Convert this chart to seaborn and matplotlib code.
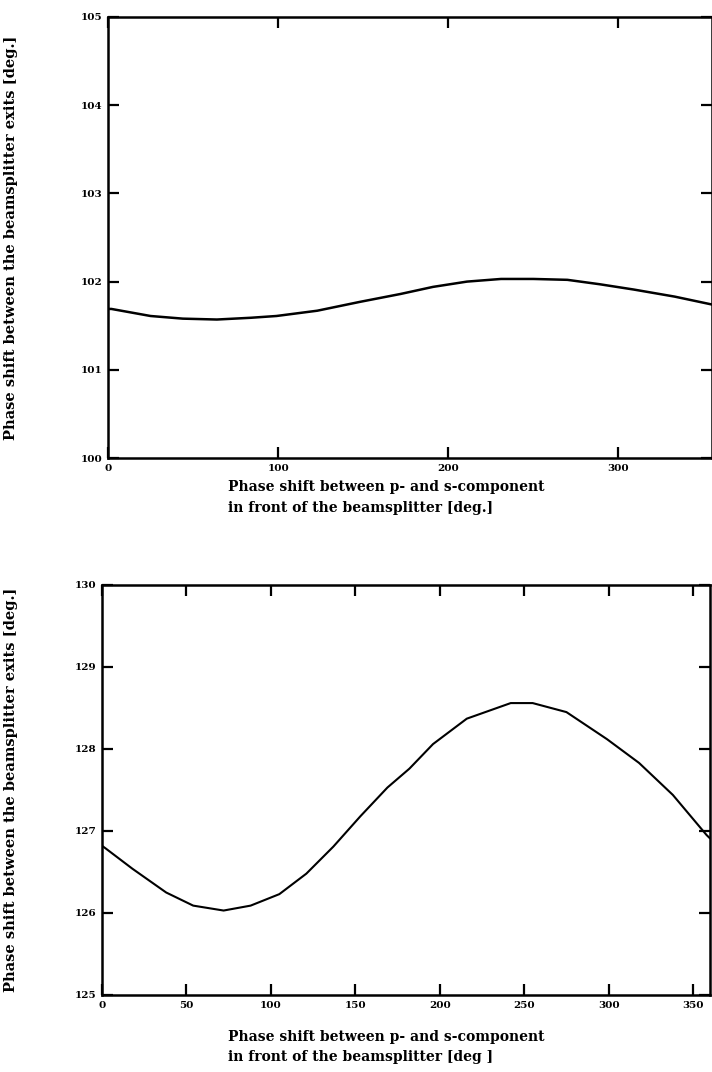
import matplotlib
matplotlib.use("Agg")
import matplotlib.pyplot as plt
import seaborn as sns
import pandas as pd

# Top panel data
top_x = [0, 2, 25, 44, 64, 84, 99, 123, 148, 172, 191, 211, 231, 250, 270, 289, 309, 333, 355]
top_y = [101.69, 101.69, 101.61, 101.58, 101.57, 101.59, 101.61, 101.67, 101.77, 101.86,
         101.94, 102.0, 102.03, 102.03, 102.02, 101.97, 101.91, 101.83, 101.74]
top_xticks = [0, 100, 200, 300]
top_yticks = [100, 101, 102, 103, 104, 105]

# Bottom panel data
bot_x = [0, 2, 18, 38, 54, 72, 88, 105, 121, 137, 153, 169, 182, 196, 216, 242, 255,
         275, 299, 318, 338, 358, 360]
bot_y = [126.82, 126.79, 126.54, 126.25, 126.09, 126.03, 126.09, 126.23, 126.48, 126.81,
         127.18, 127.53, 127.76, 128.06, 128.37, 128.56, 128.56, 128.45, 128.12, 127.83,
         127.44, 126.95, 126.91]
bot_xticks = [0, 50, 100, 150, 200, 250, 300, 350]
bot_yticks = [125, 126, 127, 128, 129, 130]

xlabel_top = "Phase shift between p- and s-component\nin front of the beamsplitter [deg.]"
xlabel_bot = "Phase shift between p- and s-component\nin front of the beamsplitter [deg ]"
ylabel = "Phase shift between the beamsplitter exits [deg.]"

sns.set_style("ticks")
plt.rcParams['font.family'] = ['DejaVu Serif', 'DejaVu Sans']
plt.rcParams['font.weight'] = 'bold'
plt.rcParams['text.color'] = 'black'
plt.rcParams['axes.labelcolor'] = 'black'
plt.rcParams['xtick.color'] = 'black'
plt.rcParams['ytick.color'] = 'black'

W, H = 712, 1072
fig = plt.figure(figsize=(W / 100, H / 100), dpi=100)


def add_axes(l, r, t, b):
    return fig.add_axes([l / W, 1 - b / H, (r - l) / W, (b - t) / H])


ax1 = add_axes(108, 712, 17, 458)
ax2 = add_axes(102, 710, 585, 995)

df1 = pd.DataFrame({"x": top_x, "y": top_y})
df2 = pd.DataFrame({"x": bot_x, "y": bot_y})

sns.lineplot(data=df1, x="x", y="y", ax=ax1, color="black", linewidth=1.8)
sns.lineplot(data=df2, x="x", y="y", ax=ax2, color="black", linewidth=1.5)

ax1.set_xlim(0, 355)
ax1.set_ylim(100, 105)
ax1.set_xticks(top_xticks)
ax1.set_yticks(top_yticks)
ax2.set_xlim(0, 360)
ax2.set_ylim(125, 130)
ax2.set_xticks(bot_xticks)
ax2.set_yticks(bot_yticks)

for ax, xl in [(ax1, xlabel_top), (ax2, xlabel_bot)]:
    for s in ax.spines.values():
        s.set_linewidth(1.8)
        s.set_color("black")
    ax.tick_params(direction="in", top=True, right=True, length=8, width=1.6,
                   labelsize=7.5, pad=4, colors="black")
    for lbl in ax.get_xticklabels() + ax.get_yticklabels():
        lbl.set_fontweight("bold")
    ax.set_xlabel(xl, fontsize=10, fontweight="bold", ha="left", multialignment="left",
                  linespacing=1.6, color="black")
    ax.set_ylabel(ylabel, fontsize=10.5, fontweight="bold", color="black")
    ax.grid(False)

ax1.xaxis.set_label_coords((228 - 108) / (712 - 108), -0.05)
ax1.xaxis.label.set_va("top")
ax1.yaxis.set_label_coords(-(108 - 18) / (712 - 108), 0.5)
ax2.xaxis.set_label_coords((228 - 102) / (710 - 102), -0.085)
ax2.xaxis.label.set_va("top")
ax2.yaxis.set_label_coords(-(102 - 18) / (710 - 102), 0.5)

fig.savefig("out.png", dpi=100, facecolor="white")
